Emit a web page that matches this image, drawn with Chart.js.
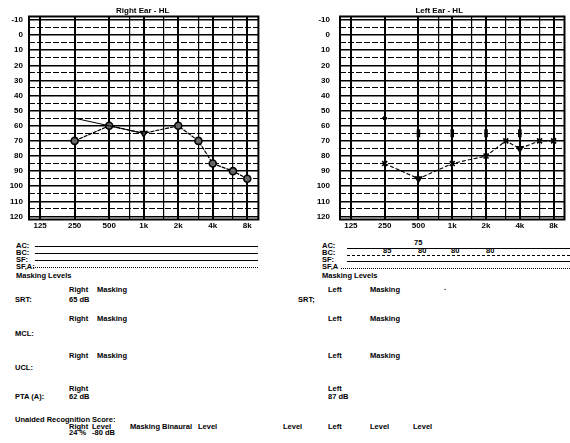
<!DOCTYPE html>
<html>
<head>
<meta charset="utf-8">
<script src="https://cdn.jsdelivr.net/npm/chart.js@4.4.1/dist/chart.umd.min.js"></script>
<style>
  body { margin: 0; width: 570px; height: 443px; overflow: hidden; background: #fff; position: relative;
         font-family: "Liberation Sans", Arial, sans-serif; font-weight: bold; font-size: 7.5px; color: #000; }
  canvas { position: absolute; top: 0; }
  .t { position: absolute; white-space: nowrap; line-height: 8px; }
  .ln { position: absolute; height: 0; border-top: 1.5px solid #000; }
</style>
</head>
<body>
<canvas id="rightEar" width="264" height="235" style="left:0px;width:264px;height:235px"></canvas>
<canvas id="leftEar" width="262" height="235" style="left:310px;width:262px;height:235px"></canvas>
<script>
// Frequencies and tick labels
const freqTicks = [125, 250, 500, 750, 1000, 1500, 2000, 3000, 4000, 6000, 8000];
const freqTickLabels = ["125", "250", "500", "", "1k", "", "2k", "", "4k", "", "8k"];
const dbTicks = [-10, -5, 0, 5, 10, 15, 20, 25, 30, 35, 40, 45, 50, 55, 60, 65, 70, 75, 80, 85, 90, 95, 100, 105, 110, 115, 120];

// Right ear
const rightAcFreq = [250, 500, 1000, 2000, 3000, 4000, 6000, 8000];
const rightAcDb = [70, 60, 65, 60, 70, 85, 90, 95];
const rightUpperFreq = [250, 500, 1000];
const rightUpperDb = [55, 60, 65];

// Left ear
const leftAcFreq = [250, 500, 1000, 2000, 3000, 4000, 6000, 8000];
const leftAcDb = [85, 95, 85, 80, 70, 75, 70, 70];
const leftBcFreq = [250];
const leftBcDb = [55];
const leftMaskedBcFreq = [500, 1000, 2000, 4000];
const leftMaskedBcDb = [65, 65, 65, 65];

const tickFont = { family: '"Liberation Sans", Arial, sans-serif', size: 8, weight: 'bold' };

function pts(freqs, dbs) {
  return freqs.map((f, i) => ({ x: f, y: dbs[i] }));
}

// frame + title
const framePlugin = {
  id: 'frame',
  beforeDatasetsDraw(chart, args, opts) {
    const { ctx, chartArea: a } = chart;
    ctx.save();
    ctx.strokeStyle = '#000';
    ctx.lineWidth = 2;
    ctx.strokeRect(a.left, a.top, a.right - a.left, a.bottom - a.top);
    ctx.restore();
  },
  afterDraw(chart, args, opts) {
    const { ctx, chartArea: a } = chart;
    ctx.save();
    ctx.font = 'bold 8px "Liberation Sans", Arial, sans-serif';
    ctx.fillStyle = '#000';
    ctx.textAlign = 'center';
    ctx.textBaseline = 'middle';
    ctx.fillText(opts.text, (a.left + a.right) / 2 + opts.dx, 11);
    ctx.restore();
  }
};

function makeOptions(title, dx, yWidth, yPad) {
  return {
    responsive: false,
    animation: false,
    layout: { padding: { top: 16.5, right: 1, bottom: 1, left: 0 } },
    plugins: {
      legend: { display: false },
      tooltip: { enabled: false },
      frame: { text: title, dx: dx }
    },
    scales: {
      x: {
        type: 'logarithmic',
        min: 100,
        max: 10000,
        afterBuildTicks: s => { s.ticks = freqTicks.map(v => ({ value: v })); },
        afterFit: s => { s.height = 14.5; },
        ticks: {
          autoSkip: false, maxRotation: 0, padding: 1.5, color: '#000', font: tickFont,
          callback: v => freqTickLabels[freqTicks.indexOf(v)]
        },
        grid: {
          drawTicks: false, color: '#000',
          lineWidth: c => (c.tick && freqTickLabels[freqTicks.indexOf(c.tick.value)] ? 2 : 1.2)
        },
        border: { display: false }
      },
      y: {
        type: 'linear',
        reverse: true,
        min: -12.3,
        max: 122,
        afterBuildTicks: s => { s.ticks = dbTicks.map(v => ({ value: v })); },
        afterFit: s => { s.width = yWidth; },
        ticks: {
          autoSkip: false, padding: yPad, color: '#000', font: tickFont,
          callback: v => (v % 10 === 0 ? String(v) : '')
        },
        grid: {
          drawTicks: false, color: '#000',
          lineWidth: c => (c.tick && c.tick.value % 10 === 0 ? 1.5 : 1.1)
        },
        border: {
          display: false,
          dash: c => (c.tick && c.tick.value % 10 !== 0 ? [6, 2] : [])
        }
      }
    }
  };
}

new Chart(document.getElementById('rightEar'), {
  type: 'line',
  data: {
    datasets: [
      {
        data: pts(rightUpperFreq, rightUpperDb),
        borderColor: '#000', borderWidth: 1, pointRadius: 0, fill: false
      },
      {
        data: pts(rightAcFreq, rightAcDb),
        borderColor: '#000', borderWidth: 1.2, borderDash: [4, 1],
        pointStyle: ['circle', 'circle', 'triangle', 'circle', 'circle', 'circle', 'circle', 'circle'],
        pointRotation: [0, 0, 180, 0, 0, 0, 0, 0],
        pointRadius: 3.5, pointBorderWidth: 1.6,
        pointBorderColor: '#000', pointBackgroundColor: '#666', fill: false
      }
    ]
  },
  options: makeOptions('Right Ear - HL', -1, 29, 6),
  plugins: [framePlugin]
});

new Chart(document.getElementById('leftEar'), {
  type: 'line',
  data: {
    datasets: [
      {
        data: pts(leftAcFreq, leftAcDb),
        borderColor: '#000', borderWidth: 1.1, borderDash: [4, 2],
        pointStyle: ['crossRot', 'triangle', 'crossRot', 'crossRot', 'crossRot', 'triangle', 'crossRot', 'crossRot'],
        pointRotation: [0, 180, 0, 0, 0, 180, 0, 0],
        pointRadius: 3.5, pointBorderWidth: 1.6,
        pointBorderColor: '#000', pointBackgroundColor: '#000', fill: false
      },
      {
        data: pts(leftBcFreq, leftBcDb),
        showLine: false, pointStyle: 'rectRot', pointRadius: 2.5,
        pointBorderColor: '#000', pointBackgroundColor: '#000'
      },
      {
        data: pts(leftMaskedBcFreq, leftMaskedBcDb),
        showLine: false, pointStyle: 'line', pointRotation: 90, pointRadius: 4,
        pointBorderWidth: 3.5, pointBorderColor: '#000'
      }
    ]
  },
  options: makeOptions('Left Ear - HL', -13, 30, 10),
  plugins: [framePlugin]
});

// texts below the charts
function put(x, y, s) {
  const d = document.createElement('div');
  d.className = 't';
  d.style.left = x + 'px';
  d.style.top = (y - 4) + 'px';
  d.textContent = s;
  document.body.appendChild(d);
}
function rule(x1, x2, y, w, style) {
  const d = document.createElement('div');
  d.className = 'ln';
  d.style.left = x1 + 'px';
  d.style.width = (x2 - x1) + 'px';
  d.style.top = y + 'px';
  d.style.borderTop = w + 'px ' + style + ' #000';
  document.body.appendChild(d);
}

// right column
put(16, 246, 'AC:'); put(16, 253, 'BC:'); put(16, 260, 'SF:'); put(16, 267, 'SF,A:');
rule(35, 258, 246, 1.5, 'solid'); rule(35, 258, 253, 1.2, 'solid');
rule(35, 258, 260, 1.5, 'solid'); rule(33, 258, 267, 1, 'dotted');
put(16, 276, 'Masking Levels');
put(69, 290, 'Right'); put(97, 290, 'Masking');
put(15, 300, 'SRT:'); put(69, 300, '65 dB');
put(69, 319, 'Right'); put(97, 319, 'Masking');
put(15, 334, 'MCL:');
put(69, 356, 'Right'); put(97, 356, 'Masking');
put(15, 368, 'UCL:');
put(69, 389, 'Right');
put(15, 397, 'PTA (A):'); put(69, 397, '62 dB');
put(15, 420, 'Unaided Recognition Score:');
put(69, 427, 'Right'); put(92, 427, 'Level'); put(130, 427, 'Masking'); put(162, 427, 'Binaural');
put(198, 427, 'Level'); put(283, 427, 'Level'); put(328, 427, 'Left'); put(370, 427, 'Level'); put(413, 427, 'Level');
put(69, 433, '24 %'); put(92, 433, '-80 dB');

// left column
put(322, 246, 'AC:'); put(322, 253, 'BC:'); put(322, 260, 'SF:'); put(322, 267, 'SF,A');
rule(347, 570, 248, 1.2, 'solid'); rule(347, 570, 255, 1, 'dashed');
rule(347, 570, 261, 1.2, 'solid'); rule(341, 570, 268, 1, 'dotted');
put(414, 243, '75');
put(383, 251, '85'); put(418, 251, '80'); put(451, 251, '80'); put(486, 251, '80');
put(322, 276, 'Masking Levels');
put(328, 290, 'Left'); put(370, 290, 'Masking'); put(444, 288, '.');
put(298, 300, 'SRT;');
put(328, 319, 'Left'); put(370, 319, 'Masking');
put(328, 356, 'Left'); put(370, 356, 'Masking');
put(328, 389, 'Left');
put(328, 397, '87 dB');
</script>
</body>
</html>
